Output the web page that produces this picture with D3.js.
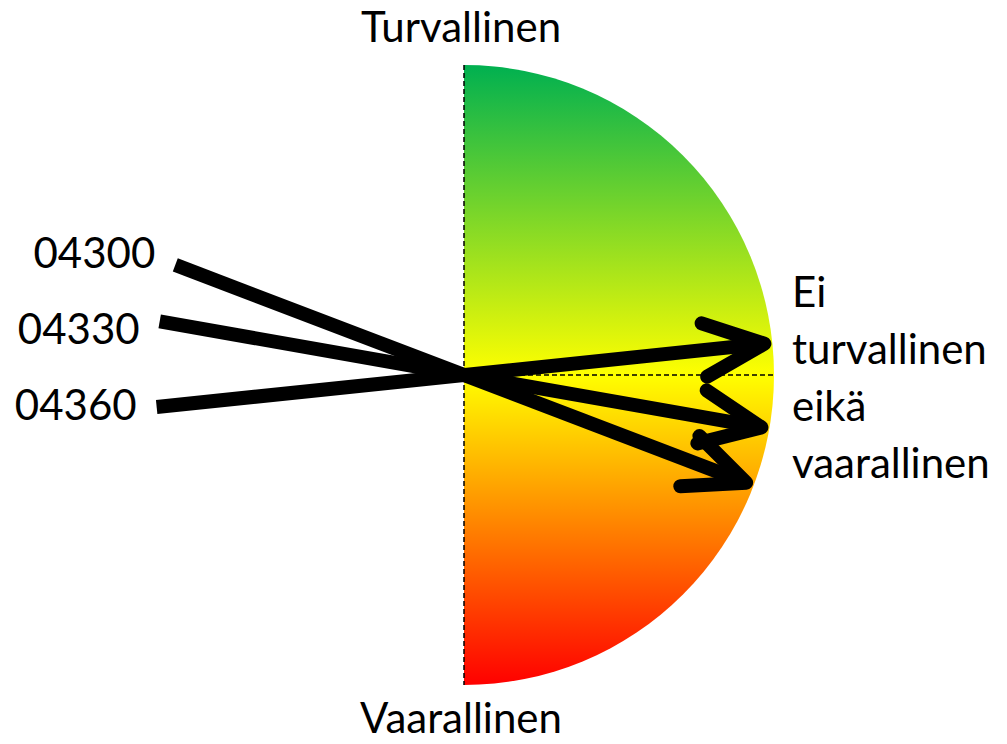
<!DOCTYPE html>
<html>
<head>
<meta charset="utf-8">
<script src="https://cdn.jsdelivr.net/npm/d3@7"></script>
<style>
  body { margin: 0; background: #fff; }
  text { font-family: Lato, "Open Sans", sans-serif; fill: #000; }
</style>
</head>
<body>
<div id="chart"></div>
<script>
// postinumeroalueet ja niiden arvio: -1 = vaarallinen, 0 = ei kumpaakaan, 1 = turvallinen
var codes = ["04300", "04330", "04360"];
var scores = [-0.232, -0.111, 0.066];
var topLabel = "Turvallinen",
    bottomLabel = "Vaarallinen",
    midLabel = ["Ei", "turvallinen", "eikä", "vaarallinen"];
var gradColors = ["#00b050", "#ffff00", "#ff0000"];

var width = 1007, height = 744,
    cx = 464, cy = 375, R = 310,
    fontSize = "42px";

var svg = d3.select("#chart").append("svg")
  .attr("width", width)
  .attr("height", height);

var defs = svg.append("defs");
var grad = defs.append("linearGradient")
  .attr("id", "grad")
  .attr("x1", 0).attr("y1", 0).attr("x2", 0).attr("y2", 1);
grad.selectAll("stop")
  .data(gradColors)
  .join("stop")
    .attr("offset", function(d, i) { return i / (gradColors.length - 1); })
    .attr("stop-color", function(d) { return d; });

// arvo -> kulma (d3.arc: 0 = ylös, pi = alas)
var angle = d3.scaleLinear().domain([-1, 1]).range([Math.PI, 0]);
// nimikkeet tasavälein
var labelY = d3.scalePoint().domain(codes).range([268, 420]);

var g = svg.append("g")
  .attr("transform", "translate(" + cx + "," + cy + ")");

g.append("path")
  .attr("d", d3.arc()({innerRadius: 0, outerRadius: R, startAngle: 0, endAngle: Math.PI}))
  .attr("fill", "url(#grad)");

// katkoviivat
g.append("line")
  .attr("x1", 0).attr("y1", -R).attr("x2", 0).attr("y2", R)
  .attr("stroke", "#000").attr("stroke-width", 1.5)
  .attr("stroke-dasharray", "5,3");
g.append("line")
  .attr("x1", 0).attr("y1", 0).attr("x2", R).attr("y2", 0)
  .attr("stroke", "#000").attr("stroke-width", 1.5)
  .attr("stroke-dasharray", "5,3");

var data = codes.map(function(c, i) { return {code: c, score: scores[i]}; });
var rStart = 309, rTip = 302, wing = 66, spread = 24 * Math.PI / 180;

var arrows = g.selectAll(".arrow")
  .data(data)
  .join("g")
    .attr("class", "arrow");

arrows.append("path")
  .attr("d", function(d) {
    var a = angle(d.score),
        s = d3.pointRadial(a + Math.PI, rStart),
        t = d3.pointRadial(a, rTip);
    return "M" + s + "L" + t;
  })
  .attr("stroke", "#000")
  .attr("stroke-width", 14)
  .attr("fill", "none");

arrows.append("path")
  .attr("d", function(d) {
    var a = angle(d.score),
        t = d3.pointRadial(a, rTip),
        back = a + Math.PI,
        w1 = d3.pointRadial(back - spread, wing),
        w2 = d3.pointRadial(back + spread, wing);
    return "M" + [t[0] + w1[0], t[1] + w1[1]] + "L" + t + "L" + [t[0] + w2[0], t[1] + w2[1]];
  })
  .attr("stroke", "#000")
  .attr("stroke-width", 14)
  .attr("stroke-linecap", "round")
  .attr("stroke-linejoin", "round")
  .attr("fill", "none");

svg.append("g").selectAll("text")
  .data(data)
  .join("text")
    .attr("x", function(d) { return cx + d3.pointRadial(angle(d.score) + Math.PI, rStart)[0] - 20; })
    .attr("y", function(d) { return labelY(d.code); })
    .attr("text-anchor", "end")
    .style("font-size", fontSize)
    .text(function(d) { return d.code; });

svg.append("text")
  .attr("x", 461).attr("y", 42)
  .attr("text-anchor", "middle")
  .style("font-size", fontSize)
  .text(topLabel);
svg.append("text")
  .attr("x", 461).attr("y", 733)
  .attr("text-anchor", "middle")
  .style("font-size", fontSize)
  .text(bottomLabel);

svg.append("g").selectAll("text")
  .data(midLabel)
  .join("text")
    .attr("x", 792)
    .attr("y", function(d, i) { return 307 + i * 57; })
    .style("font-size", fontSize)
    .text(function(d) { return d; });
</script>
</body>
</html>
